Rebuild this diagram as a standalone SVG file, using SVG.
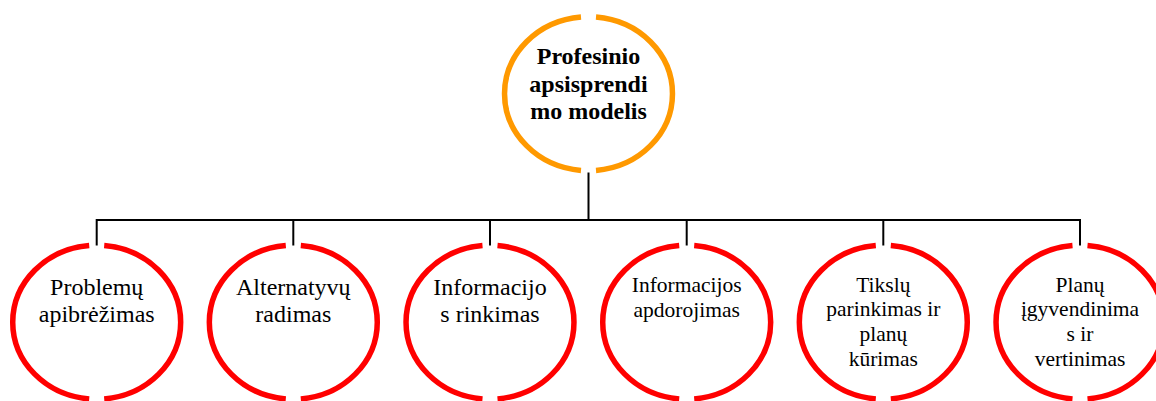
<svg xmlns="http://www.w3.org/2000/svg" xmlns:xlink="http://www.w3.org/1999/xlink" width="1156" height="401" viewBox="0 0 1156 401">
<style>
.ring{fill:none;stroke-width:5.5;stroke-linecap:butt}
.orange{stroke:#FF9900}
.red{stroke:#FF0000}
.conn{fill:none;stroke:#000;stroke-width:2}
text{font-family:"Liberation Serif","Times New Roman",serif;fill:#000;text-anchor:middle}
.big{font-size:24px}
.bold{font-weight:bold}
.small{font-size:21.5px}
</style>
<defs>
<path id="ringPath" d="M7.5,-76.69 A84,77 0 0 1 7.5,76.69 M-7.5,76.69 A84,77 0 0 1 -7.5,-76.69"/>
</defs>
<rect width="1156" height="401" fill="#fff"/>
<g id="connectors">
<path class="conn" d="M588.5,172.5 V220"/>
<path class="conn" d="M96.7,245.5 V220 H1080 V245.5"/>
<path class="conn" d="M293.3,220 V245.5"/>
<path class="conn" d="M490,220 V245.5"/>
<path class="conn" d="M686.7,220 V245.5"/>
<path class="conn" d="M883.3,220 V245.5"/>
</g>
<g id="node-root" transform="translate(588.5,93.7)">
<use xlink:href="#ringPath" class="ring orange"/>
<text class="big bold"><tspan x="0" y="-29.7">Profesinio</tspan><tspan x="0" y="-2.1">apsisprendi</tspan><tspan x="0" y="25.5">mo modelis</tspan></text>
</g>
<g id="node-1" transform="translate(96.7,322.2)">
<use xlink:href="#ringPath" class="ring red"/>
<text class="big"><tspan x="0" y="-27.2">Problemų</tspan><tspan x="0" y="-0.2">apibrėžimas</tspan></text>
</g>
<g id="node-2" transform="translate(293.3,322.2)">
<use xlink:href="#ringPath" class="ring red"/>
<text class="big"><tspan x="0" y="-27.2">Alternatyvų</tspan><tspan x="0" y="-0.2">radimas</tspan></text>
</g>
<g id="node-3" transform="translate(490,322.2)">
<use xlink:href="#ringPath" class="ring red"/>
<text class="big"><tspan x="0" y="-27.2">Informacijo</tspan><tspan x="0" y="-0.2">s rinkimas</tspan></text>
</g>
<g id="node-4" transform="translate(686.7,322.2)">
<use xlink:href="#ringPath" class="ring red"/>
<text class="small"><tspan x="0" y="-30.5">Informacijos</tspan><tspan x="0" y="-5.5">apdorojimas</tspan></text>
</g>
<g id="node-5" transform="translate(883.3,322.2)">
<use xlink:href="#ringPath" class="ring red"/>
<text class="small"><tspan x="0" y="-30.5">Tikslų</tspan><tspan x="0" y="-5.8">parinkimas ir</tspan><tspan x="0" y="18.9">planų</tspan><tspan x="0" y="43.6">kūrimas</tspan></text>
</g>
<g id="node-6" transform="translate(1080,322.2)">
<use xlink:href="#ringPath" class="ring red"/>
<text class="small"><tspan x="0" y="-30.5">Planų</tspan><tspan x="0" y="-5.8">įgyvendinima</tspan><tspan x="0" y="18.9">s ir</tspan><tspan x="0" y="43.6">vertinimas</tspan></text>
</g>
</svg>
